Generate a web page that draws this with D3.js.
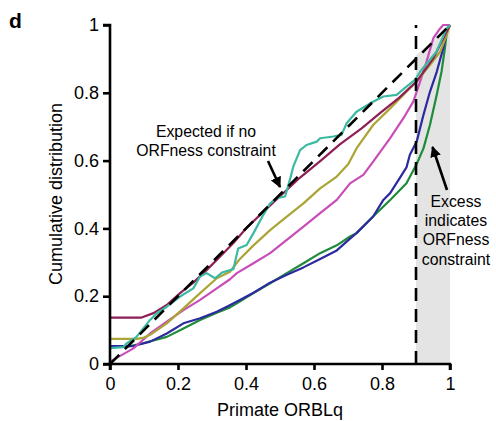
<!DOCTYPE html>
<html>
<head>
<meta charset="utf-8">
<script src="https://cdn.jsdelivr.net/npm/d3@7"></script>
<style>
  html, body { margin: 0; padding: 0; background: #fff; }
  svg { display: block; font-family: "Liberation Sans", Arial, sans-serif; }
</style>
</head>
<body>
<svg id="chart" width="496" height="421"></svg>
<script>
// ---- data ----
const xTicks = [0, 0.2, 0.4, 0.6, 0.8, 1];
const yTicks = [0, 0.2, 0.4, 0.6, 0.8, 1];
const xTickLabels = ["0", "0.2", "0.4", "0.6", "0.8", "1"];
const yTickLabels = ["0", "0.2", "0.4", "0.6", "0.8", "1"];
const threshold = 0.9;
const expected = [[0, 0], [1, 1]];

const greenSeries = [[0,0.051],[0.05,0.051],[0.1,0.062],[0.167,0.08],[0.216,0.105],[0.265,0.13],[0.314,0.151],[0.353,0.167],[0.373,0.179],[0.422,0.209],[0.471,0.238],[0.52,0.268],[0.569,0.297],[0.618,0.327],[0.667,0.35],[0.706,0.376],[0.725,0.386],[0.774,0.435],[0.824,0.484],[0.872,0.533],[0.902,0.59],[0.922,0.636],[0.941,0.705],[0.961,0.794],[0.975,0.862],[0.985,0.931],[0.992,0.99],[1,1]];
const blueSeries = [[0,0.053],[0.069,0.053],[0.118,0.066],[0.167,0.09],[0.216,0.12],[0.265,0.135],[0.314,0.154],[0.348,0.171],[0.382,0.189],[0.422,0.21],[0.471,0.24],[0.52,0.263],[0.569,0.285],[0.618,0.31],[0.667,0.335],[0.706,0.37],[0.725,0.386],[0.774,0.435],[0.804,0.484],[0.824,0.504],[0.853,0.55],[0.872,0.58],[0.882,0.617],[0.902,0.656],[0.922,0.735],[0.941,0.803],[0.961,0.862],[0.98,0.931],[0.99,0.98],[1,1]];
const magentaSeries = [[0,0.007],[0.069,0.046],[0.118,0.09],[0.167,0.125],[0.216,0.159],[0.265,0.189],[0.314,0.223],[0.353,0.25],[0.373,0.268],[0.422,0.297],[0.471,0.327],[0.52,0.366],[0.569,0.405],[0.618,0.445],[0.667,0.484],[0.706,0.533],[0.745,0.558],[0.774,0.597],[0.824,0.666],[0.863,0.725],[0.892,0.774],[0.912,0.833],[0.931,0.892],[0.951,0.961],[0.971,0.99],[0.98,1],[1,1]];
const oliveSeries = [[0,0.074],[0.08,0.074],[0.1,0.078],[0.118,0.086],[0.167,0.12],[0.216,0.164],[0.265,0.209],[0.314,0.253],[0.353,0.272],[0.382,0.31],[0.422,0.35],[0.471,0.395],[0.52,0.435],[0.569,0.474],[0.618,0.518],[0.667,0.553],[0.701,0.59],[0.725,0.636],[0.774,0.705],[0.824,0.754],[0.872,0.803],[0.902,0.833],[0.941,0.882],[0.971,0.921],[0.99,0.97],[1,1]];
const maroonSeries = [[0,0.137],[0.093,0.137],[0.128,0.15],[0.167,0.174],[0.206,0.209],[0.245,0.24],[0.284,0.277],[0.324,0.317],[0.363,0.357],[0.402,0.402],[0.45,0.448],[0.5,0.495],[0.559,0.55],[0.62,0.6],[0.676,0.648],[0.74,0.695],[0.794,0.74],[0.85,0.785],[0.903,0.835],[0.95,0.9],[0.99,0.98],[1,1]];
const tealSeries = [[0,0.047],[0.04,0.05],[0.049,0.061],[0.078,0.08],[0.098,0.105],[0.118,0.13],[0.137,0.149],[0.167,0.169],[0.206,0.199],[0.245,0.223],[0.265,0.258],[0.284,0.268],[0.309,0.253],[0.33,0.27],[0.363,0.28],[0.377,0.341],[0.402,0.351],[0.422,0.386],[0.451,0.44],[0.471,0.474],[0.49,0.489],[0.515,0.494],[0.529,0.543],[0.539,0.582],[0.559,0.631],[0.578,0.646],[0.608,0.656],[0.618,0.666],[0.657,0.671],[0.681,0.676],[0.696,0.71],[0.725,0.744],[0.765,0.769],[0.804,0.789],[0.843,0.794],[0.872,0.818],[0.897,0.838],[0.912,0.862],[0.96,0.921],[0.99,0.99],[1,1]];

const seriesList = [
  { name: "green", color: "#1f8b3b", data: greenSeries },
  { name: "blue", color: "#2c2a9f", data: blueSeries },
  { name: "magenta", color: "#c94db8", data: magentaSeries },
  { name: "olive", color: "#aaa535", data: oliveSeries },
  { name: "maroon", color: "#8e1f55", data: maroonSeries },
  { name: "teal", color: "#3cb9a3", data: tealSeries }
];

// ---- layout ----
const svg = d3.select("#chart");
const x = d3.scaleLinear().domain([0, 1]).range([110, 450]);
const y = d3.scaleLinear().domain([0, 1]).range([364, 25]);

// shaded excess region
svg.append("path")
  .attr("d", d3.line().x(d => x(d[0])).y(d => y(d[1]))([[threshold, 0], [threshold, 0.91], [1, 1], [1, 0]]) + "Z")
  .attr("fill", "#e4e4e4");

// series lines
const line = d3.line().x(d => x(d[0])).y(d => y(d[1]));
svg.selectAll("path.series").data(seriesList).enter().append("path")
  .attr("class", "series")
  .attr("d", d => line(d.data))
  .attr("fill", "none")
  .attr("stroke", d => d.color)
  .attr("stroke-width", 2.2)
  .attr("stroke-linejoin", "round");

// expected diagonal
svg.append("path")
  .attr("d", line(expected))
  .attr("fill", "none").attr("stroke", "#000")
  .attr("stroke-width", 2.6).attr("stroke-dasharray", "13,8");

// vertical threshold line
svg.append("line")
  .attr("x1", x(threshold)).attr("x2", x(threshold))
  .attr("y1", y(0)).attr("y2", y(1))
  .attr("stroke", "#000").attr("stroke-width", 2.6).attr("stroke-dasharray", "13,8");

// axes
const xAxis = d3.axisBottom(x).tickValues(xTicks).tickFormat((d, i) => xTickLabels[i]).tickSize(6).tickPadding(7);
const yAxis = d3.axisLeft(y).tickValues(yTicks).tickFormat((d, i) => yTickLabels[i]).tickSize(7).tickPadding(4);

const gx = svg.append("g").attr("transform", `translate(0,${y(0)})`).call(xAxis);
const gy = svg.append("g").attr("transform", `translate(${x(0)},0)`).call(yAxis);
[gx, gy].forEach(g => {
  g.select(".domain").attr("stroke-width", 2.6).attr("stroke", "#000");
  g.selectAll(".tick line").attr("stroke-width", 2.6).attr("stroke", "#000");
  g.selectAll(".tick text").attr("font-size", 18).attr("fill", "#000")
    .attr("font-family", "'Liberation Sans', Arial, sans-serif");
});
gx.select(".domain").attr("d", `M${x(0)},6V0H${x(1)}V6`);
gy.select(".domain").attr("d", `M-7,${y(1)}H0V${y(0)}H-7`);

// axis titles
svg.append("text").attr("x", 280).attr("y", 416).attr("text-anchor", "middle")
  .attr("font-size", 18).text("Primate ORBLq");
svg.append("text").attr("transform", "translate(62,194) rotate(-90)").attr("text-anchor", "middle")
  .attr("font-size", 18).text("Cumulative distribution");

// panel label
svg.append("text").attr("x", 9).attr("y", 28).attr("font-size", 21).attr("font-weight", "bold").text("d");

// annotations
const ann1 = svg.append("text").attr("text-anchor", "middle").attr("font-size", 15.8);
ann1.append("tspan").attr("x", 206).attr("y", 137).text("Expected if no");
ann1.append("tspan").attr("x", 206).attr("y", 156).text("ORFness constraint");

const ann2 = svg.append("text").attr("text-anchor", "middle").attr("font-size", 15.8);
["Excess", "indicates", "ORFness", "constraint"].forEach((t, i) => {
  ann2.append("tspan").attr("x", 456).attr("y", 207 + i * 19.2).text(t);
});

// arrows
const defs = svg.append("defs");
defs.append("marker").attr("id", "ah").attr("viewBox", "0 0 10 10")
  .attr("refX", 9).attr("refY", 5).attr("markerWidth", 4.2).attr("markerHeight", 4.2)
  .attr("orient", "auto").attr("markerUnits", "strokeWidth")
  .append("path").attr("d", "M0,0L10,5L0,10Z").attr("fill", "#000");

svg.append("line").attr("x1", 268).attr("y1", 161).attr("x2", 280).attr("y2", 187)
  .attr("stroke", "#000").attr("stroke-width", 2.6).attr("marker-end", "url(#ah)");
svg.append("line").attr("x1", 447).attr("y1", 190).attr("x2", 432.5).attr("y2", 147)
  .attr("stroke", "#000").attr("stroke-width", 2.6).attr("marker-end", "url(#ah)");
</script>
</body>
</html>
